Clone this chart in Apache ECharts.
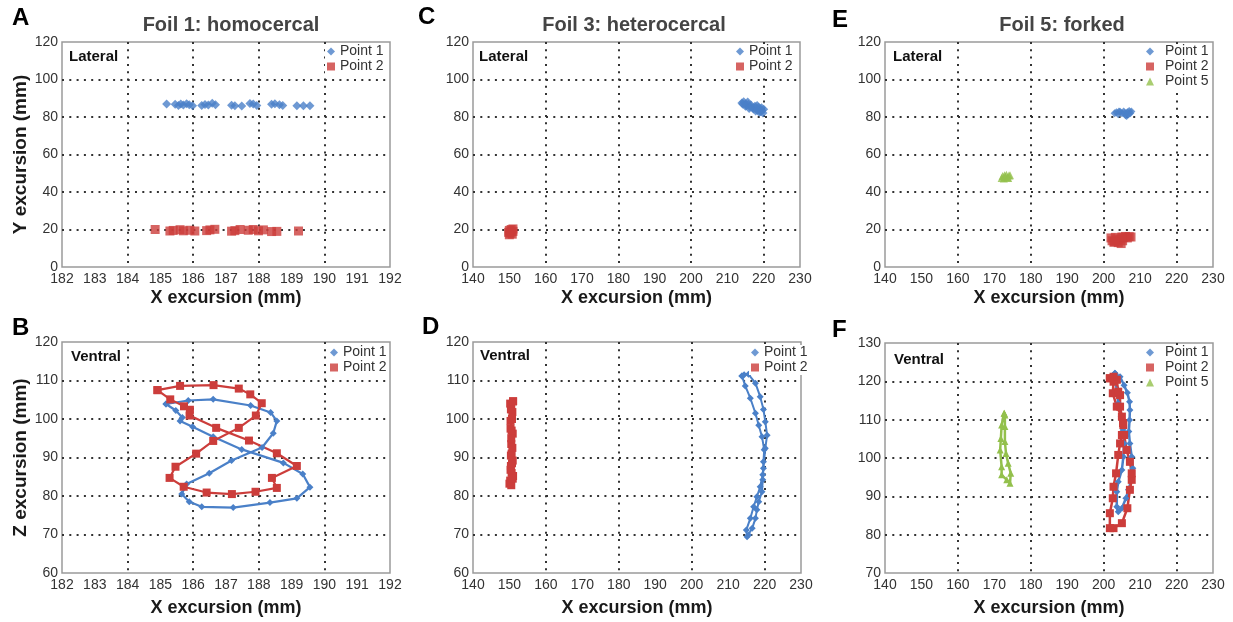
<!DOCTYPE html>
<html>
<head>
<meta charset="utf-8">
<title>Foil excursions</title>
<script src="https://cdn.jsdelivr.net/npm/echarts@6/dist/echarts.min.js"></script>
<style>
    html, body { margin: 0; padding: 0; background: #fff; }
    #chart { width: 1233px; height: 622px; }
</style>
</head>
<body>
<div id="chart"></div>
<script>
// ---- data (x, y) in mm ----
// Foil 1, lateral
var foil1LatP1 = [[185.19,87.0],[185.45,86.8],[185.55,86.2],[185.62,86.9],[185.70,86.4],[185.80,87.1],[185.88,86.6],[185.98,86.0],[186.26,86.2],[186.36,86.7],[186.46,86.4],[186.58,87.3],[186.68,86.6],[187.17,86.3],[187.27,86.0],[187.48,85.9],[187.73,87.2],[187.83,86.9],[187.94,86.1],[188.39,86.8],[188.49,87.1],[188.63,86.5],[188.73,86.1],[189.16,86.0],[189.36,86.0],[189.56,86.0]];
var foil1LatP2 = [[184.84,20.0],[185.29,19.2],[185.39,19.5],[185.60,19.9],[185.70,19.3],[185.90,19.6],[186.05,19.2],[186.41,19.4],[186.51,19.8],[186.66,20.1],[187.17,19.1],[187.27,19.4],[187.43,20.0],[187.68,19.6],[187.83,20.0],[187.99,19.3],[188.14,19.8],[188.39,18.9],[188.55,19.0],[189.21,19.2]];
// Foil 1, ventral
var foil1VenP1 = [[185.17,103.9],[185.85,104.8],[186.61,105.1],[187.75,103.5],[188.36,101.7],[188.55,99.5],[188.44,96.3],[188.10,92.6],[187.17,89.2],[186.49,85.9],[185.80,83.1],[185.65,80.5],[185.88,78.5],[186.26,77.2],[187.22,77.0],[188.34,78.3],[189.16,79.4],[189.56,82.3],[189.34,85.7],[188.75,88.6],[187.48,92.1],[186.61,95.4],[185.98,98.0],[185.60,99.5],[185.67,100.4],[185.47,102.2],[185.17,103.9]];
var foil1VenP2 = [[184.91,107.5],[185.60,108.6],[186.62,108.8],[187.39,107.9],[187.74,106.4],[188.09,104.1],[187.91,100.9],[187.39,97.7],[186.61,94.3],[186.09,91.0],[185.46,87.6],[185.28,84.7],[185.71,82.4],[186.41,80.9],[187.18,80.5],[187.90,81.1],[188.55,82.1],[188.40,84.7],[189.16,87.8],[188.55,91.1],[187.70,94.4],[186.70,97.7],[185.89,100.9],[185.90,102.4],[185.72,103.3],[185.30,105.1],[184.91,107.5]];
// Foil 3, lateral
var foil3LatP1 = [[214.0,87.5],[214.5,88.2],[215.0,87.0],[215.3,86.2],[215.8,86.8],[215.6,88.0],[216.2,85.5],[216.5,86.4],[217.0,85.0],[217.2,84.3],[217.6,85.8],[218.0,84.6],[218.3,83.6],[218.6,85.2],[218.2,86.2],[219.0,84.0],[219.2,82.8],[219.5,83.5],[219.8,82.2],[220.0,84.2],[219.4,85.0],[218.8,82.5],[217.8,83.2],[216.0,84.5],[215.0,85.8],[214.3,86.8]];
var foil3LatP2 = [[150.0,19.5],[150.5,20.0],[151.0,19.0],[150.2,18.0],[150.8,17.5],[149.8,18.5],[150.5,18.8],[151.0,20.3],[150.0,17.2]];
// Foil 3, ventral
var foil3VenP1 = [[213.8,111.2],[214.7,108.6],[216.1,105.4],[217.5,101.5],[218.4,98.4],[219.3,95.4],[219.9,92.0],[219.7,88.9],[219.5,85.5],[218.8,82.4],[217.9,79.8],[217.0,77.2],[216.1,74.2],[215.0,71.2],[215.2,69.4],[215.6,69.9],[216.6,71.6],[217.5,74.2],[217.9,76.4],[218.4,78.5],[219.3,81.1],[219.5,84.2],[219.7,87.2],[220.2,92.4],[220.7,95.8],[220.2,99.3],[219.7,102.5],[218.8,105.8],[217.5,109.3],[215.6,111.6],[214.4,111.5],[213.8,111.2]];
var foil3VenP2 = [[151.0,104.6],[150.5,103.5],[150.8,101.8],[150.3,99.5],[150.6,97.0],[150.9,96.2],[150.5,93.5],[150.6,91.0],[150.9,89.2],[150.4,87.8],[150.6,86.0],[151.0,85.2],[150.2,84.0],[150.0,83.2],[150.5,82.8],[150.9,84.5],[150.3,86.8],[150.7,88.5],[150.4,90.5],[150.8,92.5],[150.5,95.0],[150.3,97.5],[150.7,100.0],[150.4,102.5],[150.2,104.0],[151.0,104.6]];
// Foil 5, lateral
var foil5LatP1 = [[203.0,82.0],[203.5,82.5],[204.0,81.5],[204.5,82.8],[205.0,82.0],[205.5,83.0],[206.0,81.0],[206.3,80.5],[206.5,82.5],[207.0,83.2],[207.3,82.0],[207.6,83.0],[204.2,83.0],[205.8,82.2],[206.8,81.5]];
var foil5LatP2 = [[202.0,15.5],[202.3,14.0],[202.8,13.2],[203.2,15.8],[203.6,14.5],[204.0,13.0],[204.5,15.0],[204.8,12.5],[205.2,14.0],[205.5,15.8],[206.0,16.3],[206.5,15.5],[207.0,16.2],[207.5,16.0],[205.0,16.0],[203.0,13.5]];
var foil5LatP5 = [[172.0,47.5],[172.3,48.5],[172.6,47.2],[173.0,48.2],[173.3,49.2],[173.6,47.8],[174.0,48.8],[174.3,49.0],[172.8,49.0],[173.8,47.5]];
// Foil 5, ventral
var foil5VenP1 = [[203.1,122.1],[204.5,121.2],[205.6,119.0],[206.5,117.0],[207.1,114.7],[207.2,112.5],[207.1,109.9],[206.9,106.9],[207.2,103.8],[207.7,100.3],[208.0,97.3],[207.7,94.7],[206.8,91.7],[206.1,89.5],[205.0,86.9],[204.0,86.0],[203.6,87.3],[203.6,91.2],[204.0,93.8],[205.0,96.9],[205.4,100.3],[205.6,103.8],[205.3,107.3],[204.8,110.8],[204.0,114.3],[203.6,117.7],[203.1,120.8],[203.1,122.1]];
var foil5VenP2 = [[201.7,120.8],[202.7,119.9],[202.5,116.9],[203.6,113.4],[205.0,110.8],[205.4,108.6],[205.0,106.0],[204.5,103.8],[204.0,100.8],[203.4,96.0],[202.7,92.5],[202.5,89.5],[201.7,85.6],[201.7,81.7],[202.7,81.7],[205.0,83.0],[206.5,86.9],[207.2,91.7],[207.7,94.3],[207.7,96.0],[207.2,99.0],[206.3,102.1],[205.6,106.0],[205.3,109.1],[204.5,113.4],[204.5,116.4],[204.0,117.3],[203.6,120.4],[202.7,121.2],[201.7,120.8]];
var foil5VenP5 = [[172.7,111.7],[172.0,108.6],[171.8,105.1],[171.6,102.1],[172.0,97.7],[172.0,95.6],[173.4,94.3],[174.3,93.4],[174.5,96.0],[173.8,98.6],[173.2,101.2],[172.9,104.3],[172.9,108.2],[172.9,111.2],[172.7,111.7]];

// axis ranges per panel A..F : [min, max, label step, grid step]
var xRanges = [[182,192,1,2],[182,192,1,2],[140,230,10,20],[140,230,10,20],[140,230,10,20],[140,230,10,20]];
var yRanges = [[0,120,20],[60,120,10],[0,120,20],[60,120,10],[0,120,20],[70,130,10]];
var yNames = ['Y excursion (mm)', 'Z excursion (mm)', '', '', '', ''];

var FONT = '"Liberation Sans", Arial, sans-serif';
var BLUE = '#4a80c8', RED = '#cc3d3b', GREEN = '#93c04c';

var gridBoxes = [
    {left: 62,  top: 42,  width: 328, height: 225},
    {left: 62,  top: 342, width: 328, height: 231},
    {left: 473, top: 42,  width: 327, height: 225},
    {left: 473, top: 342, width: 328, height: 231},
    {left: 885, top: 42,  width: 328, height: 225},
    {left: 885, top: 343, width: 328, height: 230}
];

var dotted = {color: '#333', width: 2, type: [2, 5.3]};

var grids = [], xAxes = [], yAxes = [];
gridBoxes.forEach(function (b, i) {
    grids.push({left: b.left, top: b.top, width: b.width, height: b.height,
        show: true, borderColor: '#9a9a9a', borderWidth: 1.5, backgroundColor: '#fff'});
    var xr = xRanges[i], yr = yRanges[i];
    var bottomRow = i % 2 === 1;
    // labelled x axis
    xAxes.push({
        gridIndex: i, type: 'value', min: xr[0], max: xr[1], interval: xr[2],
        axisLine: {show: false}, axisTick: {show: false}, splitLine: {show: false},
        axisLabel: {fontSize: 14, color: '#333', fontFamily: FONT, margin: 5},
        name: 'X excursion (mm)', nameLocation: 'middle', nameGap: bottomRow ? 26 : 22,
        nameTextStyle: {fontSize: 18, fontWeight: 'bold', color: '#1a1a1a', fontFamily: FONT}
    });
    // second x axis only for the vertical dotted lines
    xAxes.push({
        gridIndex: i, type: 'value', position: 'top', min: xr[0], max: xr[1], interval: xr[3],
        axisLine: {show: false}, axisTick: {show: false}, axisLabel: {show: false},
        splitLine: {show: true, showMinLine: false, showMaxLine: false, lineStyle: dotted}
    });
    yAxes.push({
        gridIndex: i, type: 'value', min: yr[0], max: yr[1], interval: yr[2],
        axisLine: {show: false}, axisTick: {show: false},
        axisLabel: {fontSize: 14, color: '#333', fontFamily: FONT, margin: 4},
        splitLine: {show: true, showMinLine: false, showMaxLine: false, lineStyle: dotted},
        name: yNames[i], nameLocation: 'middle', nameGap: 26,
        nameTextStyle: {fontSize: 19, fontWeight: 'bold', color: '#1a1a1a', fontFamily: FONT}
    });
});

function scatter(name, panel, data, symbol, size, color) {
    return {
        name: name, type: 'scatter', xAxisIndex: panel * 2, yAxisIndex: panel,
        data: data, symbol: symbol, symbolSize: size, itemStyle: {color: color}
    };
}
function loop(name, panel, data, symbol, size, color, width) {
    return {
        name: name, type: 'line', xAxisIndex: panel * 2, yAxisIndex: panel,
        data: data, symbol: symbol, symbolSize: size, showSymbol: true,
        lineStyle: {color: color, width: width}, itemStyle: {color: color}
    };
}

var series = [
    scatter('Point 1', 0, foil1LatP1, 'diamond', 9, BLUE),
    scatter('Point 2', 0, foil1LatP2, 'rect', 9, RED),
    loop('Point 1', 1, foil1VenP1, 'diamond', 7, BLUE, 2.2),
    loop('Point 2', 1, foil1VenP2, 'rect', 8, RED, 2.2),
    scatter('Point 1', 2, foil3LatP1, 'diamond', 9, BLUE),
    scatter('Point 2', 2, foil3LatP2, 'rect', 9, RED),
    loop('Point 1', 3, foil3VenP1, 'diamond', 7, BLUE, 2),
    loop('Point 2', 3, foil3VenP2, 'rect', 8, RED, 2),
    scatter('Point 1', 4, foil5LatP1, 'diamond', 8, BLUE),
    scatter('Point 2', 4, foil5LatP2, 'rect', 9, RED),
    scatter('Point 5', 4, foil5LatP5, 'triangle', 8, GREEN),
    loop('Point 1', 5, foil5VenP1, 'diamond', 7, BLUE, 2.5),
    loop('Point 2', 5, foil5VenP2, 'rect', 8, RED, 2.5),
    loop('Point 5', 5, foil5VenP5, 'triangle', 7, GREEN, 2.5)
];

function legendAt(left, top, names, textGap) {
    var icons = {'Point 1': 'diamond', 'Point 2': 'rect', 'Point 5': 'triangle'};
    return {
        orient: 'vertical', left: left, top: top, itemWidth: 8, itemHeight: 8, itemGap: 0,
        padding: [0, 2, 0, 2], backgroundColor: '#fff', selectedMode: false,
        textStyle: {fontSize: 14, color: '#333', fontFamily: FONT, lineHeight: 15,
            padding: [0, 0, 0, textGap]},
        data: names.map(function (n) { return {name: n, icon: icons[n]}; })
    };
}

var legends = [
    legendAt(325, 44, ['Point 1', 'Point 2'], 0),
    legendAt(328, 345, ['Point 1', 'Point 2'], 0),
    legendAt(734, 44, ['Point 1', 'Point 2'], 0),
    legendAt(749, 345, ['Point 1', 'Point 2'], 0),
    legendAt(1144, 44, ['Point 1', 'Point 2', 'Point 5'], 6),
    legendAt(1144, 345, ['Point 1', 'Point 2', 'Point 5'], 6)
];

function txt(s, x, y, font, fill, align, vAlign) {
    return {type: 'text', z: 10, style: {text: s, x: x, y: y, font: font, fill: fill,
        textAlign: align, align: align, textVerticalAlign: vAlign, verticalAlign: vAlign}};
}
var letterFont = 'bold 24px ' + FONT, tagFont = 'bold 15px ' + FONT, titleFont = 'bold 20px ' + FONT;

var graphics = [
    txt('A', 12, 6, letterFont, '#000', 'left', 'top'),
    txt('B', 12, 316, letterFont, '#000', 'left', 'top'),
    txt('C', 418, 5, letterFont, '#000', 'left', 'top'),
    txt('D', 422, 315, letterFont, '#000', 'left', 'top'),
    txt('E', 832, 8, letterFont, '#000', 'left', 'top'),
    txt('F', 832, 318, letterFont, '#000', 'left', 'top'),
    txt('Foil 1: homocercal', 231, 25, titleFont, '#444', 'center', 'middle'),
    txt('Foil 3: heterocercal', 634, 25, titleFont, '#444', 'center', 'middle'),
    txt('Foil 5: forked', 1062, 25, titleFont, '#444', 'center', 'middle'),
    txt('Lateral', 69, 49, tagFont, '#111', 'left', 'top'),
    txt('Ventral', 71, 349, tagFont, '#111', 'left', 'top'),
    txt('Lateral', 479, 49, tagFont, '#111', 'left', 'top'),
    txt('Ventral', 480, 348, tagFont, '#111', 'left', 'top'),
    txt('Lateral', 893, 49, tagFont, '#111', 'left', 'top'),
    txt('Ventral', 894, 352, tagFont, '#111', 'left', 'top')
];

var chart = echarts.init(document.getElementById('chart'));
chart.setOption({
    animation: false,
    backgroundColor: '#fff',
    textStyle: {fontFamily: FONT},
    grid: grids,
    xAxis: xAxes,
    yAxis: yAxes,
    legend: legends,
    graphic: graphics,
    series: series
});
</script>
</body>
</html>
